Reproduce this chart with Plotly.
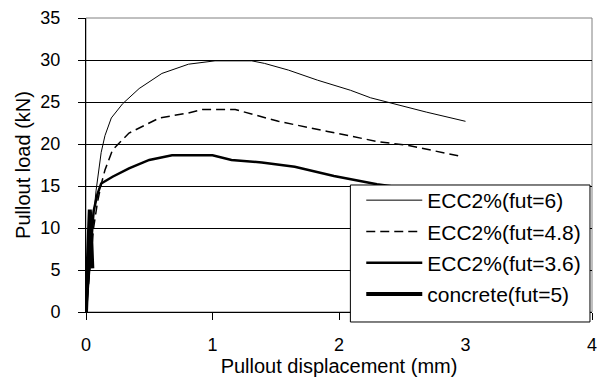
import plotly.graph_objects as go

# Pullout load-displacement curves
ecc6_disp = [0, 0.02, 0.04, 0.06, 0.08, 0.10, 0.12, 0.15, 0.20, 0.29, 0.42, 0.60, 0.81,
             1.02, 1.31, 1.41, 1.60, 1.83, 2.09, 2.25, 2.43, 2.69, 3.0]
ecc6_load = [0, 4, 8, 11.5, 14.5, 17, 19, 21, 23.1, 24.8, 26.6, 28.4, 29.5,
             29.9, 29.9, 29.6, 28.8, 27.6, 26.4, 25.5, 24.8, 23.8, 22.7]

ecc48_disp = [0, 0.02, 0.04, 0.06, 0.09, 0.12, 0.15, 0.21, 0.34, 0.58, 0.81, 0.92,
              1.18, 1.52, 1.91, 2.30, 2.56, 2.97]
ecc48_load = [0, 3.5, 7, 10, 13, 15.2, 16.9, 19.3, 21.3, 23.1, 23.7, 24.1,
              24.1, 22.7, 21.5, 20.3, 19.8, 18.5]

ecc36_disp = [0, 0.02, 0.04, 0.06, 0.09, 0.12, 0.21, 0.34, 0.50, 0.68, 1.0, 1.15,
              1.39, 1.65, 1.96, 2.25, 2.30, 2.5, 2.75, 3.0]
ecc36_load = [0, 4, 8.5, 12, 14, 15.3, 16.1, 17.1, 18.1, 18.65, 18.65, 18.1,
              17.8, 17.3, 16.2, 15.4, 15.2, 14.8, 14.2, 13.6]

conc_disp = [0, 0.01, 0.02, 0.03, 0.035, 0.04, 0.05]
conc_load = [0, 4, 8, 12.2, 11, 8.5, 5.2]

series = [
    ("ECC2%(fut=6)", ecc6_disp, ecc6_load, 1, "solid"),
    ("ECC2%(fut=4.8)", ecc48_disp, ecc48_load, 1.5, "9px,5px"),
    ("ECC2%(fut=3.6)", ecc36_disp, ecc36_load, 2.5, "solid"),
    ("concrete(fut=5)", conc_disp, conc_load, 4, "solid"),
]

FONT = "Liberation Sans, Arial, sans-serif"

fig = go.Figure()
for i, (name, xs, ys, w, dash) in enumerate(series):
    fig.add_trace(go.Scatter(
        x=xs, y=ys, name=name, mode="lines", legendgroup=f"g{i}",
        line=dict(color="black", width=w, dash=dash),
    ))

fig.update_layout(
    width=603, height=383,
    margin=dict(l=86, r=6, t=18, b=71),
    paper_bgcolor="white", plot_bgcolor="white",
    font=dict(family=FONT, color="black", size=18),
    showlegend=True,
    legend=dict(
        x=0.544, y=0.449, xanchor="left", yanchor="top",
        bgcolor="rgba(0,0,0,0)", borderwidth=0,
        font=dict(family=FONT, size=21, color="black"),
        itemwidth=56, tracegroupgap=1, traceorder="grouped",
    ),
    xaxis=dict(
        range=[0, 4], dtick=1, tick0=0,
        showgrid=False, zeroline=False,
        showline=True, linecolor="black", linewidth=1,
        ticks="outside", ticklen=7, tickcolor="black",
        ticklabelstandoff=9,
        tickfont=dict(size=18),
        title=dict(text="Pullout displacement (mm)", font=dict(size=20), standoff=4),
    ),
    yaxis=dict(
        range=[0, 35], dtick=5, tick0=0,
        showgrid=True, gridcolor="black", gridwidth=1,
        zeroline=False,
        showline=True, linecolor="black", linewidth=1,
        ticks="outside", ticklen=7, tickcolor="black",
        ticklabelstandoff=14,
        tickfont=dict(size=18),
        title=dict(text="Pullout load (kN)", font=dict(size=20), standoff=4),
    ),
    shapes=[
        # plot frame
        dict(type="rect", xref="paper", yref="paper", x0=0, x1=1, y0=0, y1=1,
             line=dict(color="#808080", width=1), layer="below"),
        # legend box
        dict(type="rect", xref="paper", yref="paper",
             x0=0.5225, x1=0.996, y0=-0.034, y1=0.432,
             fillcolor="white", line=dict(color="black", width=1), layer="above"),
    ],
)

fig.write_html("out.html")
